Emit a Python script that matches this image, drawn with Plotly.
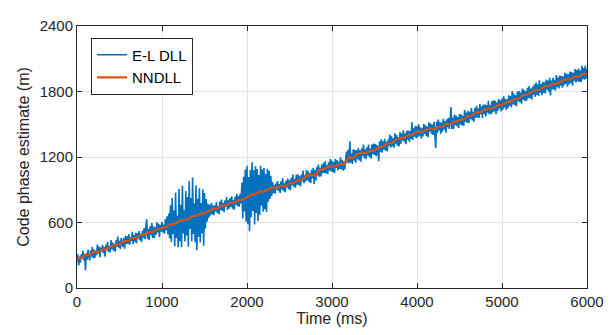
import plotly.graph_objects as go

# ---- data ----
# E-L DLL estimate, sampled every 10 ms from 0 to 6000 ms
el_dll_t = [i * 10 for i in range(601)]
el_dll_v = [
    245, 308, 206, 288, 231, 309, 272, 340, 253, 310,
    163, 321, 259, 351, 289, 252, 345, 288, 376, 273,
    352, 275, 343, 300, 398, 316, 379, 282, 370, 337,
    395, 318, 376, 288, 396, 349, 422, 330, 383, 326,
    439, 357, 415, 342, 405, 333, 436, 379, 472, 369,
    432, 355, 458, 405, 378, 456, 359, 477, 405, 473,
    406, 494, 397, 464, 432, 515, 403, 486, 424, 506,
    409, 502, 450, 522, 435, 493, 421, 524, 462, 550,
    448, 556, 629, 451, 539, 437, 565, 483, 596, 458,
    566, 459, 557, 489, 602, 510, 588, 466, 579, 517,
    605, 508, 581, 498, 631, 529, 657, 490, 683, 455,
    758, 421, 824, 496, 709, 382, 875, 458, 661, 373,
    906, 429, 762, 374, 937, 500, 713, 426, 889, 481,
    834, 377, 980, 542, 825, 428, 1011, 494, 777, 419,
    942, 345, 818, 470, 913, 416, 779, 502, 905, 387,
    870, 543, 816, 608, 771, 644, 762, 665, 778, 675,
    758, 666, 754, 701, 789, 687, 750, 673, 791, 713,
    811, 709, 777, 694, 802, 745, 833, 716, 804, 726,
    824, 742, 840, 727, 805, 718, 836, 764, 862, 749,
    842, 745, 863, 775, 963, 636, 1019, 702, 1085, 607,
    1120, 584, 1017, 521, 1084, 648, 1151, 705, 1078, 582,
    1115, 688, 1090, 613, 1035, 668, 1120, 753, 1085, 698,
    1100, 722, 1044, 697, 1089, 791, 1073, 815, 1027, 840,
    972, 869, 946, 863, 960, 902, 979, 886, 953, 870,
    977, 904, 1006, 888, 960, 877, 984, 921, 1003, 905,
    987, 895, 1009, 942, 1040, 929, 997, 920, 1039, 947,
    1040, 944, 1022, 931, 1039, 978, 1076, 960, 1033, 977,
    1080, 987, 1069, 971, 1053, 960, 1082, 1004, 1101, 953,
    1080, 985, 1105, 1030, 1130, 1020, 1101, 1021, 1131, 1051,
    1147, 1054, 1161, 1049, 1126, 1043, 1151, 1078, 1180, 1068,
    1165, 1062, 1153, 1055, 1182, 1099, 1170, 1077, 1159, 1090,
    1197, 1088, 1174, 1075, 1161, 1087, 1193, 1250, 1151, 1266,
    1142, 1343, 1149, 1235, 1136, 1270, 1169, 1263, 1147, 1261,
    1180, 1282, 1169, 1261, 1158, 1280, 1212, 1314, 1191, 1268,
    1180, 1288, 1215, 1313, 1200, 1278, 1185, 1313, 1225, 1323,
    1220, 1318, 1207, 1310, 1248, 1162, 1345, 1248, 1362, 1240,
    1343, 1267, 1366, 1259, 1338, 1252, 1360, 1304, 1403, 1286,
    1390, 1298, 1372, 1285, 1418, 1322, 1400, 1303, 1382, 1300,
    1428, 1321, 1414, 1351, 1444, 1337, 1415, 1318, 1440, 1358,
    1441, 1339, 1437, 1365, 1518, 1355, 1463, 1386, 1484, 1372,
    1480, 1382, 1499, 1396, 1473, 1370, 1462, 1389, 1501, 1413,
    1490, 1392, 1479, 1381, 1518, 1435, 1507, 1414, 1496, 1403,
    1523, 1425, 1282, 1524, 1421, 1542, 1444, 1521, 1413, 1515,
    1432, 1550, 1452, 1530, 1422, 1545, 1473, 1560, 1458, 1535,
    1658, 1456, 1558, 1456, 1589, 1491, 1579, 1482, 1565, 1467,
    1595, 1498, 1592, 1490, 1578, 1487, 1630, 1523, 1607, 1515,
    1623, 1512, 1615, 1549, 1648, 1536, 1615, 1524, 1648, 1561,
    1670, 1562, 1645, 1557, 1685, 1593, 1665, 1557, 1680, 1593,
    1680, 1572, 1675, 1607, 1715, 1592, 1675, 1593, 1710, 1607,
    1720, 1617, 1715, 1592, 1700, 1623, 1730, 1642, 1720, 1618,
    1735, 1633, 1756, 1655, 1733, 1631, 1729, 1647, 1766, 1669,
    1757, 1655, 1803, 1682, 1780, 1678, 1766, 1664, 1798, 1711,
    1804, 1702, 1791, 1689, 1828, 1726, 1814, 1713, 1801, 1715,
    1833, 1741, 1849, 1738, 1826, 1724, 1842, 1770, 1864, 1752,
    1880, 1768, 1866, 1759, 1902, 1790, 1868, 1766, 1889, 1787,
    1885, 1783, 1910, 1818, 1900, 1798, 1926, 1763, 1901, 1818,
    1926, 1819, 1906, 1809, 1951, 1839, 1927, 1829, 1947, 1854,
    1942, 1835, 1937, 1855, 1972, 1870, 1963, 1845, 1958, 1865,
    1982, 1879, 1977, 1854, 1972, 1899, 2006, 1884, 1996, 1894,
    2011, 1888, 1991, 1888, 2036, 1913, 2015, 1908, 2035, 1918,
    2005,
]

# NNDLL estimate, sampled every 50 ms
nndll_t = [i * 50 for i in range(121)]
nndll_v = [
    270, 273, 301, 305, 332, 329, 354, 355, 385, 395, 402, 430, 432, 457, 456, 490, 490, 512, 515, 539, 548,
    560, 585, 584, 611, 623, 625, 658, 660, 682, 683, 708, 726, 727, 752, 757, 783, 782, 805, 808, 835,
    854, 860, 886, 883, 904, 921, 916, 937, 932, 959, 964, 991, 993, 1023, 1038, 1028, 1080, 1089, 1112, 1112,
    1120, 1139, 1134, 1198, 1192, 1225, 1241, 1234, 1256, 1258, 1288, 1295, 1324, 1326, 1355, 1375, 1376, 1400, 1405, 1433,
    1429, 1449, 1463, 1456, 1477, 1478, 1503, 1500, 1526, 1538, 1543, 1576, 1580, 1611, 1609, 1637, 1646, 1649, 1673, 1677,
    1702, 1707, 1732, 1736, 1769, 1772, 1800, 1813, 1818, 1848, 1849, 1872, 1870, 1897, 1912, 1911, 1933, 1936, 1961, 1962,
]

x_ticks = [0, 1000, 2000, 3000, 4000, 5000, 6000]
y_ticks = [0, 600, 1200, 1800, 2400]

FONT = "Liberation Sans, Arial, Helvetica, sans-serif"
AX = "#262626"

fig = go.Figure()
fig.add_trace(go.Scatter(x=el_dll_t, y=el_dll_v, mode="lines", name="E-L DLL",
                         line=dict(color="#0072BD", width=1.6)))
fig.add_trace(go.Scatter(x=nndll_t, y=nndll_v, mode="lines", name="NNDLL",
                         line=dict(color="#D95319", width=2.2)))

axis_common = dict(showline=True, linecolor=AX, linewidth=1, mirror="ticks",
                   ticks="inside", ticklen=5, tickcolor=AX, showgrid=True,
                   gridcolor="#e3e3e3", gridwidth=1, zeroline=False,
                   tickfont=dict(family=FONT, size=15, color=AX))

fig.update_xaxes(range=[0, 6000], tickvals=x_ticks, ticktext=[str(v) for v in x_ticks],
                 title=dict(text="Time (ms)", font=dict(family=FONT, size=16, color=AX), standoff=3),
                 **axis_common)
fig.update_yaxes(range=[0, 2400], tickvals=y_ticks, ticktext=[str(v) for v in y_ticks],
                 title=dict(text="Code phase estimate (m)", font=dict(family=FONT, size=16, color=AX), standoff=6),
                 **axis_common)

# page body has an 8px margin, so the figure is sized/offset to compensate
fig.update_layout(
    width=605, height=327,
    margin=dict(l=69, r=26, t=9, b=47),
    paper_bgcolor="white", plot_bgcolor="white",
    showlegend=True,
    legend=dict(x=0.0275, y=0.956, xanchor="left", yanchor="top",
                bgcolor="white", bordercolor=AX, borderwidth=1,
                font=dict(family=FONT, size=15, color="#000000"),
                tracegroupgap=0),
)

fig.write_html("out.html")
